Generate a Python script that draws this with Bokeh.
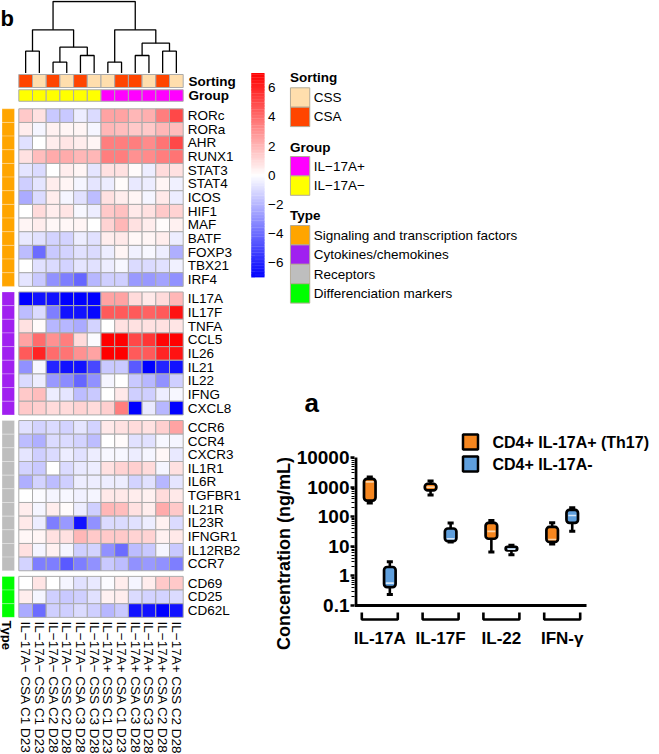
import numpy as np
from bokeh.plotting import figure
from bokeh.layouts import row, column
from bokeh.models import Range1d, FixedTicker, CustomJSTickFormatter, LinearColorMapper, ColumnDataSource
from bokeh.core.properties import value
from bokeh.embed import file_html
from bokeh.resources import INLINE

FONT = "Liberation Sans"

# ============================ DATA ============================
col_labels = [
    "IL−17A− CSA C1 D23", "IL−17A− CSS C1 D23", "IL−17A− CSA C2 D28",
    "IL−17A− CSS C2 D28", "IL−17A− CSA C3 D28", "IL−17A− CSS C3 D28",
    "IL−17A+ CSS C1 D23", "IL−17A+ CSA C1 D23", "IL−17A+ CSA C3 D28",
    "IL−17A+ CSS C3 D28", "IL−17A+ CSA C2 D28", "IL−17A+ CSS C2 D28",
]
sorting = ["CSA", "CSS", "CSA", "CSS", "CSA", "CSS", "CSS", "CSA", "CSA", "CSS", "CSA", "CSS"]
group = ["IL−17A−"] * 6 + ["IL−17A+"] * 6

signaling_genes = ["RORc", "RORa", "AHR", "RUNX1", "STAT3", "STAT4", "ICOS", "HIF1",
                   "MAF", "BATF", "FOXP3", "TBX21", "IRF4"]
signaling_values = [
    [1.5, 0.8, -1.5, -1.5, -0.5, -1.0, 2.5, 2.5, 2.0, 2.2, 3.5, 5.0],
    [0.5, -0.3, 0.4, 0.3, 0.3, -0.3, 2.0, 1.8, 1.5, 1.5, 2.0, 1.8],
    [-0.8, 0.0, 0.5, 0.7, 0.5, 0.3, 3.5, 3.5, 3.5, 3.2, 3.8, 5.0],
    [0.8, 1.8, 2.3, 2.3, 2.0, 2.0, 3.5, 3.5, 3.0, 3.2, 3.5, 3.8],
    [-0.7, -1.0, 0.0, 0.5, 0.3, -0.7, 0.8, 0.8, 0.1, -0.5, 1.0, 0.8],
    [-1.3, -0.7, 0.5, 0.3, -0.3, -0.7, -0.5, 0.1, -0.6, -0.5, 0.3, -0.4],
    [-2.3, -1.0, 0.5, -0.3, -0.8, -1.8, 0.8, 0.5, 0.3, -0.3, 0.6, -0.5],
    [0.0, 1.0, 0.5, 0.7, -0.2, -0.5, 1.5, 1.7, 0.6, 0.8, 1.5, 1.2],
    [0.3, 0.5, 0.2, 0.2, 0.3, 0.0, 1.2, 2.0, 0.8, 0.5, 0.1, 0.4],
    [-0.6, -0.8, -1.2, -1.2, -0.5, -0.8, 0.5, 0.6, 0.2, 0.3, 0.5, -0.5],
    [-1.8, -4.0, -1.5, -1.2, -0.8, -1.0, -0.5, 0.3, -0.4, -0.2, -0.5, -2.2],
    [0.0, -0.8, -1.0, -1.2, -0.7, -0.8, -0.5, -0.2, -1.0, -1.0, -0.8, -0.4],
    [-0.7, -1.5, -3.0, -3.5, -4.2, -2.0, -1.3, -1.3, -2.8, -2.8, -2.5, -3.0],
]
cytokine_genes = ["IL17A", "IL17F", "TNFA", "CCL5", "IL26", "IL21", "IL22", "IFNG", "CXCL8"]
cytokine_values = [
    [-7.0, -6.5, -6.5, -7.0, -7.0, -7.0, 2.5, 2.5, 1.0, 0.6, 1.0, 2.0],
    [-1.8, -1.0, -3.5, -6.5, -6.5, -6.8, 4.5, 4.5, 4.5, 4.3, 4.5, 6.5],
    [0.8, 0.1, -2.0, -2.0, -2.3, -1.2, 0.0, 0.8, 0.8, 0.8, 0.8, 0.7],
    [2.5, 4.0, 3.0, 3.5, 1.0, -0.1, 7.0, 7.0, 5.0, 5.5, 6.8, 7.0],
    [4.5, 6.0, 4.0, 3.8, 3.0, 2.5, 7.0, 7.0, 4.5, 4.5, 6.0, 6.5],
    [-3.0, -0.2, -6.0, -6.5, -6.5, -5.0, -1.5, -1.5, -4.5, -7.0, -6.0, -6.5],
    [-1.0, -0.5, -2.8, -3.2, -4.2, -3.0, -0.3, 0.0, -1.5, -2.0, -3.0, -1.3],
    [1.5, 1.8, -0.5, -0.7, -1.8, -1.5, 0.0, 0.6, -1.3, -1.3, -0.5, -0.2],
    [1.5, 1.3, 1.0, 1.0, 1.2, 1.0, 1.3, 3.5, -7.0, -0.6, -2.0, -7.0],
]
receptor_genes = ["CCR6", "CCR4", "CXCR3", "IL1R1", "IL6R", "TGFBR1", "IL21R", "IL23R",
                  "IFNGR1", "IL12RB2", "CCR7"]
receptor_values = [
    [-0.8, -1.2, -1.0, -1.2, -0.7, -1.2, 0.6, 0.8, 1.0, 0.8, 1.3, 2.5],
    [-1.8, -2.2, -1.0, -1.0, -1.2, -1.8, 0.0, 0.1, -0.8, -0.8, -0.2, -0.3],
    [-0.7, -1.3, -1.0, -0.5, -0.8, -0.5, -0.2, -0.2, -0.5, -0.3, 0.2, -0.6],
    [-1.2, -1.5, 0.0, -1.0, -0.6, -0.5, 0.8, 1.2, 1.3, 1.0, -0.3, 0.8],
    [-2.2, -1.2, -1.8, -1.3, -0.5, -0.5, -0.5, -0.5, -1.2, -0.8, -2.0, -0.7],
    [0.0, -0.1, -0.3, -0.2, -0.4, -0.3, 0.6, 0.6, 0.5, 0.4, 1.0, 0.6],
    [0.5, -0.3, 0.5, 0.1, -0.5, -1.3, 2.0, 1.8, 0.8, 0.5, 2.3, 1.5],
    [0.6, -0.5, -3.5, -2.8, -6.5, -3.0, -1.0, -1.0, -0.8, -0.5, 0.4, -1.0],
    [0.2, 0.3, 0.8, 0.8, 2.0, 1.5, 1.5, 1.5, 1.2, 1.2, 0.4, 0.6],
    [0.8, -0.3, 0.4, -0.3, -1.3, -1.2, -3.0, -4.0, -1.8, -1.5, -0.3, -1.5],
    [-1.2, -3.5, -3.5, -4.5, -3.5, -3.0, -1.5, -1.8, -3.0, -2.8, -3.0, -3.5],
]
differentiation_genes = ["CD69", "CD25", "CD62L"]
differentiation_values = [
    [0.0, 0.7, 0.0, -0.3, -0.8, -0.6, -0.1, 0.5, -0.3, 0.5, 1.5, 1.5],
    [0.5, -0.3, -1.3, -1.5, -1.3, -0.8, 0.4, 0.5, -1.0, -1.2, -1.2, -1.0],
    [-2.3, -4.0, -1.3, -1.3, -1.0, -1.3, -2.0, -1.5, -6.5, -6.5, -7.0, -6.5],
]
type_names = ["Signaling and transcription factors", "Cytokines/chemokines",
              "Receptors", "Differenciation markers"]

# column dendrogram: (left node, right node, merge height); leaves 0..11, new nodes 12..
dendro_merges = [
    (0, 1, 3.05), (2, 3, 1.51), (4, 5, 2.45), (13, 14, 3.61), (12, 15, 6.04),
    (6, 7, 1.51), (8, 9, 2.45), (10, 11, 3.05), (18, 19, 4.17), (17, 20, 6.04),
    (16, 21, 10.0),
]
colorbar_ticks = [-6, -4, -2, 0, 2, 4, 6]

# box plot (ng/mL): min, q1, median, q3, max
box_categories = ["IL-17A", "IL-17F", "IL-22", "IFN-γ"]
box_series = ["CD4+ IL-17A+ (Th17)", "CD4+ IL-17A-"]
th17_min = [290, 540, 6.4, 12]
th17_q1 = [350, 770, 18, 14]
th17_med = [1500, 1000, 32, 17]
th17_q3 = [1900, 1300, 62, 45]
th17_max = [2200, 1600, 75, 62]
neg_min = [0.235, 14, 5.2, 32]
neg_q1 = [0.42, 15, 7.3, 62]
neg_med = [0.57, 18, 8.0, 110]
neg_q3 = [2.0, 40, 9.5, 170]
neg_max = [3.0, 61, 10.8, 200]
box_ticks = [0.1, 1, 10, 100, 1000, 10000]

# ============================ STYLE ============================
sorting_colors = {"CSS": "#FFDEAD", "CSA": "#FF4500"}
group_colors = {"IL−17A+": "#FF00FF", "IL−17A−": "#FFFF00"}
type_colors = ["#FFA500", "#A020F0", "#BEBEBE", "#00FF00"]
series_colors = ["#F5861F", "#5F9FDD"]
median_colors = ["#FBD3A8", "#D7E7F7"]


def blend(c1, c2, f):
    return "#%02x%02x%02x" % tuple(int(round(a + (b - a) * f)) for a, b in zip(c1, c2))


palette = []
for i in range(255):
    v = -7 + 14 * i / 254
    if v < 0:
        palette.append(blend((255, 255, 255), (0, 0, 255), -v / 7))
    else:
        palette.append(blend((255, 255, 255), (255, 0, 0), v / 7))
mapper = LinearColorMapper(palette=palette, low=-7, high=7)

# ============================ LAYOUT ============================
W, H = 659, 754
WL, HT = 246, 422
WR, HB = W - WL, H - HT
FS = lambda px: "%.1fpx" % px
COMMON = dict(output_backend="svg", toolbar_location=None, frame_align=False)


def clean(p):
    p.grid.visible = False
    p.outline_line_color = None
    p.background_fill_color = "white"
    p.border_fill_color = "white"


# ---- left: heatmap (x in column units, y in row units) ----
X0, CW, Y0, RH = 18.3, 13.7, 108.3, 13.66
cx = lambda X: (X - X0) / CW
cy = lambda Y: (Y - Y0) / RH
GAP = 5.6 / RH

left = figure(width=WL, height=H, x_range=Range1d(cx(0), cx(WL)),
              y_range=Range1d(cy(H), cy(0)), x_axis_location=None, y_axis_location=None,
              min_border=0, **COMMON)
clean(left)

blocks = [(signaling_genes, signaling_values), (cytokine_genes, cytokine_values),
          (receptor_genes, receptor_values), (differentiation_genes, differentiation_values)]
hx, hy, hv, gy, gname, tcol = [], [], [], [], [], []
start = 0.0
for b, (genes, vals) in enumerate(blocks):
    for r, g in enumerate(genes):
        yc = start + r + 0.5
        gy.append(yc)
        gname.append(g)
        tcol.append(type_colors[b])
        for j, v in enumerate(vals[r]):
            hx.append(j + 0.5)
            hy.append(yc)
            hv.append(v)
    start += len(genes) + GAP

left.rect(x="x", y="y", width=1, height=1,
          source=ColumnDataSource(dict(x=hx, y=hy, v=hv)),
          fill_color={"field": "v", "transform": mapper}, line_color="#ABABAB", line_width=1)
# type annotation
left.rect(x=cx(7.75), y=gy, width=12.5 / CW, height=1, fill_color=tcol,
          line_color="white", line_alpha=0.35, line_width=0.8)
# row labels
left.text(x=cx(187.3), y=gy, text=gname, text_align="left", text_baseline="middle",
          text_font=value(FONT), text_font_size=FS(13.5), text_color="black")
# column annotations
ncol = len(col_labels)
colx = [j + 0.5 for j in range(ncol)]
left.rect(x=colx, y=cy(80.5), width=1, height=13 / RH,
          fill_color=[sorting_colors[s] for s in sorting], line_color="#ABABAB", line_width=1)
left.rect(x=colx, y=cy(95), width=1, height=11.5 / RH,
          fill_color=[group_colors[g] for g in group], line_color="#ABABAB", line_width=1)
left.text(x=cx(188), y=[cy(80.5), cy(95)], text=["Sorting", "Group"], text_align="left",
          text_baseline="middle", text_font=value(FONT), text_font_size=FS(13.5),
          text_font_style="bold", text_color="black")
# column labels
left.text(x=colx, y=cy(621), text=col_labels, angle=-np.pi / 2, text_align="left",
          text_baseline="middle", text_font=value(FONT), text_font_size=FS(13.5),
          text_color="black")
left.text(x=cx(5.5), y=cy(620), text=["Type"], angle=-np.pi / 2, text_align="left",
          text_baseline="middle", text_font=value(FONT), text_font_size=FS(13),
          text_font_style="bold", text_color="black")
left.text(x=cx(0), y=cy(18), text=["b"], text_align="left", text_baseline="middle",
          text_font=value(FONT), text_font_size=FS(22), text_font_style="bold",
          text_color="black")

# dendrogram
dy = lambda h: cy(72.5 - 7.15 * h)
node_x = {i: i + 0.5 for i in range(ncol)}
node_h = {i: 0.0 for i in range(ncol)}
dxs, dys = [], []
for k, (a, b, h) in enumerate(dendro_merges):
    xa, xb = node_x[a], node_x[b]
    dxs.append([xa, xa, xb, xb])
    dys.append([dy(node_h[a]), dy(h), dy(h), dy(node_h[b])])
    node_x[ncol + k] = (xa + xb) / 2
    node_h[ncol + k] = h
left.multi_line(xs=dxs, ys=dys, line_color="black", line_width=1.3)

# ---- top right: color bar + annotation legends ----
tr = figure(width=WR, height=HT, x_range=Range1d(WL, W), y_range=Range1d(HT, 0),
            x_axis_location=None, y_axis_location=None, min_border=0, **COMMON)
clean(tr)
CB0, CBK = 174.7, 14.57
cb_vals = np.arange(-7, 7, 0.1) + 0.05
tr.rect(x=257.4, y=CB0 - CBK * cb_vals, width=13.3, height=CBK * 0.1 + 0.4,
        fill_color=[palette[int(round((v + 7) / 14 * 254))] for v in cb_vals], line_color=None)
tr.text(x=267.5, y=[CB0 - CBK * v for v in colorbar_ticks],
        text=[("−%d" % -v) if v < 0 else str(v) for v in colorbar_ticks],
        text_align="left", text_baseline="middle", text_font=value(FONT),
        text_font_size=FS(13.5), text_color="black")


def legend_block(title, ty, labels, colors, y_first):
    tr.text(x=289.5, y=ty, text=[title], text_align="left", text_baseline="middle",
            text_font=value(FONT), text_font_size=FS(13.5), text_font_style="bold",
            text_color="black")
    ys = [y_first + 19.4 * i + 9.7 for i in range(len(labels))]
    tr.rect(x=299.6, y=ys, width=19.3, height=19.4, fill_color=colors,
            line_color="#B4AA96", line_width=1)
    tr.text(x=313.3, y=ys, text=labels, text_align="left", text_baseline="middle",
            text_font=value(FONT), text_font_size=FS(13.5), text_color="black")


legend_block("Sorting", 77.3, ["CSS", "CSA"], [sorting_colors["CSS"], sorting_colors["CSA"]], 87.3)
legend_block("Group", 147.3, ["IL−17A+", "IL−17A−"],
             [group_colors["IL−17A+"], group_colors["IL−17A−"]], 156.0)
legend_block("Type", 215.0, type_names, type_colors, 225.0)
tr.text(x=304, y=402.5, text=["a"], text_align="left", text_baseline="middle",
        text_font=value(FONT), text_font_size=FS(26), text_font_style="bold",
        text_color="black")

# ---- box plot (log scale) ----
BX0, BCW = 379.3, 60.8
bc = lambda X: (X - BX0) / BCW
bv = lambda Y: 10 ** (-1 + (605 - Y) / 29.6)
MBL, MBB = 108, 70
bx = figure(width=WR, height=HB, y_axis_type="log",
            x_range=Range1d(bc(WL + MBL), bc(W)),
            y_range=Range1d(bv(H - MBB), bv(HT)),
            x_axis_location=None, min_border_left=MBL, min_border_right=0,
            min_border_top=0, min_border_bottom=MBB, **COMMON)
clean(bx)
minor = [k * 10 ** e for e in range(-1, 4) for k in range(2, 10)]
ya = bx.yaxis[0]
ya.ticker = FixedTicker(ticks=box_ticks, minor_ticks=minor)
ya.formatter = CustomJSTickFormatter(code="return tick >= 1 ? tick.toFixed(0) : String(tick);")
ya.axis_line_color = None
ya.major_tick_out, ya.major_tick_in, ya.major_tick_line_width = 4, 0, 2.5
ya.minor_tick_out, ya.minor_tick_in, ya.minor_tick_line_width = 3, 0, 1.2
ya.major_label_standoff = 1
ya.major_label_text_font = FONT
ya.major_label_text_font_size = FS(19)
ya.major_label_text_font_style = "bold"
ya.major_label_text_color = "black"
ya.axis_label = "Concentration (ng/mL)"
ya.axis_label_text_font = FONT
ya.axis_label_text_font_size = FS(18)
ya.axis_label_text_font_style = "bold"
ya.axis_label_text_color = "black"
ya.axis_label_standoff = 0

ncat = len(box_categories)
cats = list(range(ncat))
ax_x = bc(355.4)
bx.segment(x0=ax_x, y0=box_ticks[0], x1=ax_x, y1=box_ticks[-1], line_color="black", line_width=3)
bx.segment(x0=bc(354), y0=box_ticks[0], x1=cats[-1] + 0.4, y1=box_ticks[0],
           line_color="black", line_width=3)
# brackets under categories
bx.multi_line(xs=[[c - 0.296, c - 0.296, c + 0.296, c + 0.296] for c in cats],
              ys=[[bv(612), bv(619), bv(619), bv(612)] for _ in cats],
              line_color="black", line_width=2.6)
bx.text(x=cats, y=bv(637.5), text=box_categories, text_align="center", text_baseline="middle",
        text_font=value(FONT), text_font_size=FS(17), text_font_style="bold", text_color="black")

OFF, BW, CAPW = 0.165, 0.19, 0.1
for si, (mn, q1, md, q3, mx) in enumerate([(th17_min, th17_q1, th17_med, th17_q3, th17_max),
                                             (neg_min, neg_q1, neg_med, neg_q3, neg_max)]):
    xs = [c + (OFF if si else -OFF) for c in cats]
    src = ColumnDataSource(dict(x=xs, mn=mn, q1=q1, md=md, q3=q3, mx=mx,
                                xl=[x - CAPW / 2 for x in xs], xr=[x + CAPW / 2 for x in xs],
                                ml=[x - 0.065 for x in xs], mr=[x + 0.065 for x in xs]))
    bx.segment(x0="x", y0="mn", x1="x", y1="mx", source=src, line_color="black", line_width=2.6)
    bx.segment(x0="xl", y0="mn", x1="xr", y1="mn", source=src, line_color="black", line_width=3)
    bx.segment(x0="xl", y0="mx", x1="xr", y1="mx", source=src, line_color="black", line_width=3)
    bx.vbar(x="x", width=BW, bottom="q1", top="q3", source=src, fill_color=series_colors[si],
            line_color="black", line_width=2.7, border_radius=3)
    bx.segment(x0="ml", y0="md", x1="mr", y1="md", source=src, line_color=median_colors[si],
               line_width=1.6)

bx.scatter(x=[bc(470)] * 2, y=[bv(441.5), bv(463.5)], marker="square", size=15,
           fill_color=series_colors, line_color="black", line_width=2.5)
bx.text(x=bc(492), y=[bv(441.5), bv(463.5)], text=box_series, text_align="left",
        text_baseline="middle", text_font=value(FONT), text_font_size=FS(16),
        text_font_style="bold", text_color="black")

layout = row(left, column(tr, bx))
open("out.html", "w").write(file_html(layout, INLINE, title="Heatmap and cytokine concentrations"))
